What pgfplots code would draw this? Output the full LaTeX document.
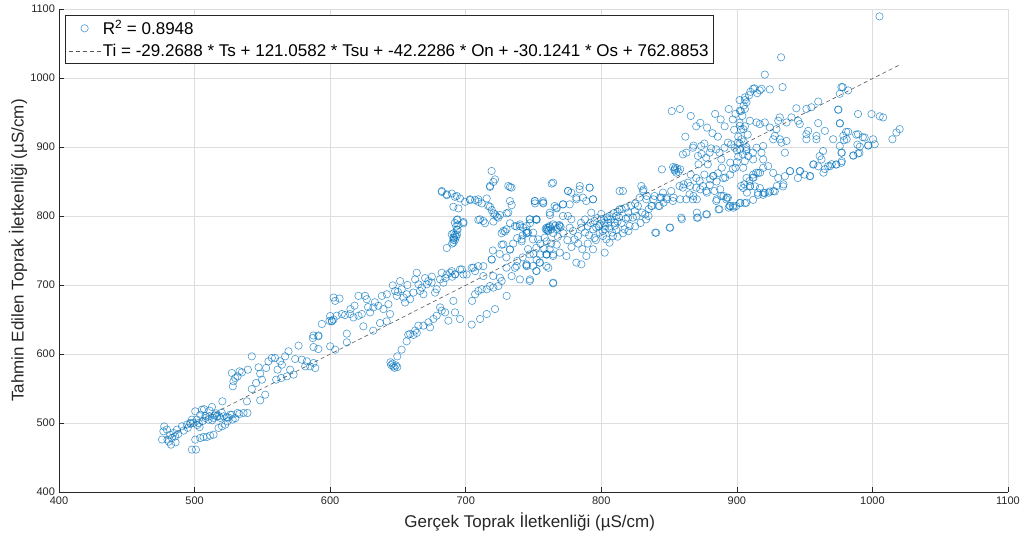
\documentclass[border=0pt]{standalone}
\usepackage{pgfplots}
\pgfplotsset{compat=1.18}
\usepackage{fontspec}
\setmainfont{Liberation Sans}
\definecolor{mblue}{RGB}{0,114,189}
\definecolor{axgray}{RGB}{38,38,38}
\pgfplotsset{
  legcirc/.style={legend image code/.code={\draw[mark repeat=2,mark phase=2,##1] plot coordinates {(0pt,0pt)(16pt,0pt)(32pt,0pt)};}},
  legline/.style={legend image code/.code={\draw[##1] (0pt,0pt) -- (32pt,0pt);}},
}
\begin{document}
\begin{tikzpicture}
\begin{axis}[
  scale only axis, width=949pt, height=483pt,
  xmin=400, xmax=1100, ymin=400, ymax=1100,
  xtick={400,500,...,1100}, ytick={400,500,...,1100},
  axis x line*=bottom, axis y line*=left,
  axis line style={axgray, line width=0.6pt, -},
  tick align=inside, major tick length=5pt,
  tick style={axgray, line width=0.5pt},
  grid=major, major grid style={black!13, line width=0.5pt},
  ticklabel style={font=\fontsize{11}{13}\selectfont, text=axgray},
  xticklabel style={yshift=-1.5pt},
  yticklabel style={xshift=-0.5pt},
  /pgf/number format/assume math mode=true,
  /pgf/number format/1000 sep={},
  xlabel={Gerçek Toprak İletkenliği (µS/cm)},
  ylabel={Tahmin Edilen Toprak İletkenliği (µS/cm)},
  label style={font=\fontsize{17}{20}\selectfont, text=axgray},
  xlabel style={at={(axis description cs:0.496,-0.062)}, anchor=center},
  ylabel style={at={(axis description cs:-0.0432,0.5)}, anchor=center},
  legend style={at={(axis description cs:0.0063,0.9876)}, anchor=north west,
    draw=axgray, line width=0.6pt, font=\fontsize{17}{20}\selectfont, text=black,
    row sep=4pt, inner xsep=3pt, inner ysep=3pt},
  legend cell align=left,
]
\addplot[only marks, mark=o, mark size=3.7pt, mark options={draw=mblue, draw opacity=0.7, line width=0.6pt}, legcirc]
table {
x y
476 476
477.6 495
477 488
479.6 490.4
482 483
483.3 478.3
485.7 480.7
484.5 485.5
482.6 468.6
487 490.4
490.7 495.2
494.3 497.6
496.8 500
498 504.8
500.5 516.9
501.7 504.8
504.2 512
505.4 519.3
503 500
503.7 494
498 461.4
501 461.4
500.5 475.9
504.2 478.3
506.6 479.7
509 479.7
511.5 481.7
514 483
507.9 507.3
512.8 523.2
510.3 504.8
514 507.3
516.5 509.7
518.9 507.3
521.4 509.7
523.8 508.2
517.7 492.8
520.2 495.2
522.6 497.6
524.3 502.4
526.3 512
520.5 531.4
527.5 512
531.7 514.5
536.1 514.5
539 514.5
538.6 531.4
480 476
481 473
486 472
488 484
492 489
495 493
497 499
499 500
502 497
506 503
508 510
511 510
513 504
515 511
518 510
507 520
511 518
516 514
520 515
525 508
528 505
530 507
533 513
528.2 553.2
527.5 572.5
528.7 560.4
530 565.2
531.7 567.6
533.2 574.9
534.9 573.4
539.3 577.3
542.2 596.6
542.2 549.3
545.4 558
548.4 571.5
547.2 580.7
549.7 562.8
552.1 541
548.4 532.9
552.8 579.7
554.5 589.4
557 594.2
559.4 594.2
561.2 577.3
563.1 589.4
563.9 565.2
560.2 562.8
564.4 584.5
566.8 596.6
569.3 603.9
568.1 567.6
570.5 577.3
573 570.1
574.2 592.8
576.7 612.1
579.1 591.8
581.6 582.1
582.8 589.4
585.3 582.1
587.7 586.9
589 579.7
587.2 623.2
591.3 625.6
587.7 610.1
591.3 607.2
600 611.1
603.7 606.3
601.3 647.3
612.3 629.5
612.3 616.9
624.5 640.1
631.8 633.8
636.8 644.9
641.7 647.3
646.6 582.1
645 584
647.5 580
648.5 583.5
646 586
649.5 581
644.5 588
649.5 596.6
652.7 606.3
656.4 618.4
657.6 628
587.7 626.8
591.4 626.8
593.9 643.5
600 655
601.2 648
602.5 650
599.5 648
602.5 681.8
606.9 680.4
603.7 677
604.9 655.5
608.6 657.9
611 656.4
614.7 657.9
617.2 653
620.9 655.5
623.3 657.9
620.9 684.2
625.8 684.2
627 679.4
629.5 660.3
631.9 667.5
635.6 669.9
638.1 684.2
639.3 665.1
641.8 686.6
643 672.2
644.2 657.9
646.2 699.5
647.9 691.4
649.1 684.2
651.6 705.7
652.8 693.8
654.1 681.8
655.3 674.6
656.5 686.6
659 679.4
661.4 689
662.7 708.1
663.9 717.7
665.1 701
666.3 691.4
667.6 696.2
668.8 686.6
671.3 701
672.5 705.7
674.9 703.3
677.4 689
678.6 693.8
681.1 708.1
682.3 717.7
683.5 703.3
686 715.3
688.5 717.7
689.7 720.1
692.1 715.3
695.8 722.5
698.3 715.3
700.7 715.3
704.4 724.9
706.9 720.1
709.3 727.3
713 727.3
719.2 736.8
659 629.2
661.4 627.7
662.7 634
663.9 630.6
665.1 641.1
668.8 641.1
672.5 645.9
673.7 638.7
676.2 650.7
678.6 655.5
681.1 667.5
682.3 662.7
684.8 660.3
687.2 648.3
690.9 677
692.1 660.3
695.8 650.7
704.4 642.6
710.6 650.7
715.5 657.9
721.6 665.1
704.7 677
706.9 686.6
709.3 691.4
711.8 693.8
715.5 693.8
717.9 698.6
720.4 696.2
724.1 698.6
726.5 705.7
730.2 684.2
733.9 712.9
736.4 724.9
740 708.1
745 727.3
747.4 708.1
752.3 736.8
754.8 744
759.7 744
760.9 724.9
764.6 703.3
759.7 763.2
767.1 758.4
682.3 834.9
686 830.1
689.7 832.5
692.1 827.8
695.8 825.4
699.5 820.6
703.2 823
706.9 823
709.3 820.6
711.8 818.2
715.5 825.4
717.9 813.4
719.2 808.6
720.4 803.8
722.9 799
725.3 801.4
717.9 842.1
720.4 849.3
732.7 842.1
733.9 815.8
730.2 803.8
709.3 794.3
714.2 789.5
720.4 791.9
726.5 775.1
729 777.5
732.7 789.5
737.6 784.7
745 775.1
747.4 789.5
752.3 794.3
751.1 818.2
757.2 818.2
763.4 846.9
762.2 801.4
767.1 811
759.7 779.9
764.6 775.1
741.3 763.2
726.5 758.4
732.7 751.2
686 753.6
690.9 765.5
692.1 772.7
693.4 779.9
693.4 794.3
694.6 787.1
698.3 789.5
690.9 813.4
694.6 811
690 760
692 765
693 770
691 775
694 780
693 785
692 790
694 795
691.5 768
693.5 773
766 786
768 783
769 787
767 781
770 784
759 781
761 779
762 784
739.8 785.5
742.3 783.1
744.7 778.3
747.2 795.2
750.9 821.7
757 821.7
752.1 795.2
745.9 775.8
749.6 766.2
752.1 754.1
747.2 744.4
744.7 728.5
749.6 727.5
752.1 720.3
759.5 744.4
761.9 751.7
764.4 744.4
759.5 727.5
754.5 732.4
760.7 783.1
761.9 785.5
763.1 780.7
764.4 787.9
765.6 814.5
766.8 812.1
769.3 785.5
771.7 800
771.7 816.9
775.4 836.2
776.7 816.9
775.4 800
777.9 795.2
776.7 783.1
779.1 778.3
780.3 766.2
782.8 771
785.3 783.1
781.6 824.2
784 838.6
786.5 826.6
791.4 841.1
788.9 821.7
793.9 824.2
792.6 804.8
793.9 780.7
796.3 783.1
798.8 775.8
801.2 771
802.5 780.7
800 795.2
804.9 795.2
803.7 766.2
806.1 761.3
808.6 771
809.8 790.3
811.1 800
813.5 809.7
813.5 836.2
816 836.2
817.2 780.7
819.7 797.6
820.9 785.5
823.3 797.6
827 814.5
828.3 826.6
824.6 807.2
829.5 843.5
830.7 836.2
833.2 824.2
836.9 814.5
839.3 829
840.5 775.8
843 814.5
844.2 826.6
845.5 833.8
847.9 826.6
850.4 783.1
851.6 836.2
852.8 821.7
854.1 867.6
855.3 862.8
859 797.6
857.7 843.5
860.2 841.1
862.7 824.2
863.9 848.3
865.1 831.4
867.6 824.2
870 841.1
871.3 797.6
872.5 850.7
874.9 843.5
877.4 802.4
877.4 836.2
878.6 874.9
882.3 858
883.5 836.2
884.8 821.7
887.2 809.7
888.5 829
892.1 824.2
893.4 826.6
894.6 814.5
897.1 814.5
899.5 814.5
903.2 843.5
905.6 845.9
906.9 819.3
909.3 850.7
911.8 855.6
914.3 862.8
915.5 833.8
860.2 889.4
862.7 891.8
867.6 899
871.3 887
873.7 901.4
877.4 884.5
879.9 891.8
884.8 896.6
887.2 891.8
888.5 882.1
890.9 899
893.4 906.3
895.8 903.9
898.3 899
900.7 906.3
904.4 889.4
906.9 894.2
911.8 891.8
764.4 702.4
747.2 705.8
801 778
803 785
805 790
806 782
808 776
810 786
812 792
799 788
804 798
807 795
811 780
813 798
854 866
856 869
853 871
857 864
920.6 1004.9
912 984.4
916.9 982
918.2 984.4
924.3 983.4
933.7 986.8
977.1 986.8
975.9 977.1
982.1 982
960 965.9
951.3 955.1
955 957.6
943.9 956.1
974.7 954.1
989.4 947.8
999.3 947.8
1005.4 944.4
1007.9 942.9
1020.1 925.9
1017.7 921
1014.7 911.2
975.9 934.6
960 934.6
964.9 923.4
982.1 922
989.4 918.5
994.3 913.7
1000.5 911.2
1001.7 903.9
996.8 902.4
990.7 900.5
989.4 890.7
985.8 887.8
981 911.2
978.5 916.1
975.9 901.5
971 911.2
963.6 894.1
962.4 882
961.1 886.8
967.3 872.2
973.4 874.6
977.1 877.1
977.1 891.7
956.3 874.6
953.8 857.6
939.1 864.9
946.4 864.9
935.4 891.7
932.9 906.3
926.8 911.2
931.7 911.2
928 916.1
936.6 908.8
945.2 938
946.4 933.2
951.3 918.5
952.6 923.4
951.3 911.2
958.7 916.1
958.7 911.2
940.3 942.9
931.7 942.9
936.6 935.6
919.4 901.5
918.2 891.7
914.5 899
919.4 882
912 882
908.4 886.8
905.9 879.5
902.2 896.6
904.7 869.8
907.1 855.1
912 860
915.7 862.4
919.4 869.8
923.1 872.2
926.8 862.4
930.5 855.1
935.4 857.6
904.7 840.5
909.6 842.9
913.3 842.9
917 840.5
920.6 833.2
924.3 835.6
934.1 842.9
902.2 818.5
905.9 818.5
912 823.4
915.7 830.7
919.4 830.7
928 835.6
902.2 952.7
905.9 955.1
907.1 964.9
909.6 938
914.5 935.6
916.9 933.2
920.6 935.6
924.3 928.3
929.2 925.9
930.5 938
902.2 930.7
904.7 925.9
903.5 911.2
907.1 896.6
1005.2 1089.3
932.6 1030
988 918
992.9 914.1
997 902
988.9 903.4
990.4 891.3
986 887.4
978.1 986.8
974.9 954.1
976.1 934.1
980.6 922
979.1 909.8
977.4 891.7
977.4 879.5
973.2 874.6
968.8 872.2
682.4 836.2
686 831.4
693.4 829
703.2 824.2
709.3 824.2
716.7 814.5
721.6 802.4
724 797.6
719.1 865.2
717.9 843.5
721.6 853.1
731.4 843.5
733.8 841.1
732.6 821.7
731.4 804.8
710.5 795.2
713 792.8
698.3 791.3
689.7 773.4
690.9 768.6
690.9 761.4
727.7 778.3
730.1 780.7
727.7 758.9
732.6 751.7
736.3 785.5
740 787.9
744.9 785.5
747.3 795.2
752.2 795.2
751 821.7
757.1 819.3
762 804.8
764.5 848.3
771.8 816.9
775.5 836.2
777.9 833.8
781.6 826.6
784.1 843.5
791.4 841.1
793.9 824.2
759.6 783.1
760.8 778.3
758.3 768.6
753.4 766.2
749.8 775.8
744.9 775.8
741.2 766.2
719.1 737.2
730.1 725.1
737.5 727.5
744.9 730
752.2 720.3
754.7 732.4
759.6 744.4
764.5 742
769.4 746.9
774.3 742
781.6 732.4
785.3 730
789 742
793.9 751.7
802.5 746.9
725.2 710.6
720.3 713
713 713
705.6 725.1
697.1 722.7
692.2 715.5
831.1 838.6
833.6 829
838.5 824.2
843.4 826.6
848.4 824.2
853.3 826.6
858.2 824.2
860.7 845.9
865.6 843.5
868 829
870.5 824.2
873 838.6
877.9 833.8
880.3 853.1
882.8 858
887.7 838.6
885.2 824.2
890.2 829
892.6 826.6
895.1 814.5
897.5 812.1
902.5 819.3
907.4 833.8
909.8 843.5
912.3 855.6
917.2 862.8
919.7 833.8
923.4 833.8
927 836.2
929.5 843.5
934.4 845.9
939.3 865.2
946.7 865.2
954.1 858
956.6 874.9
963.9 862.8
888.9 870
891.4 855.6
895.1 877.3
886.5 809.7
893.9 812.1
832.4 802.4
834.8 800
839.8 775.8
850.8 783.1
859.4 795.2
870.5 804.8
870.5 797.6
877.9 802.4
842.2 814.5
845.9 819.3
837.3 814.5
844.7 867.6
871.7 874.9
854.5 870
858.2 867.6
899 870
900 878
901 886
900 895
902 905
901 915
903 925
902 935
904 945
903 952
905 960
906 968
898 925
897 940
899 948
906 930
908 918
905 908
907 900
909 975
910 980
902 968
906 972
913 985
915 978
873 935
878 928
882 920
886 915
876 905
881 898
888 940
891 930
884 948
894 955
852 952
858 955
866 945
870 930
862 915
868 902
874 890
960 872
965 868
970 875
950 860
945 855
785 790
788 795
790 785
792 790
795 793
797 797
798 785
800 803
802 790
806 800
809 804
812 806
815 810
818 812
820 805
822 815
825 818
788 776
791 772
795 768
783 760
786 752
790 760
796 765
815 790
818 796
826 800
830 805
835 810
812 770
816 775
820 778
825 785
829 790
833 795
735 760
738 768
742 772
746 752
750 745
755 760
758 752
763 760
768 770
772 775
775 765
778 755
742 740
738 735
730 740
725 745
720 750
615 665
618 670
628 668
633 675
650 690
657 700
670 710
675 712
685 710
690 712
880 845
885 850
890 855
895 860
897 868
886 862
876 860
870 855
866 860
};
\addlegendentry{R\textsuperscript{2} = 0.8948}
\addplot[draw=black!65, dash pattern=on 4pt off 3pt, line width=0.6pt, legline]
  coordinates {(478,478) (1020,1019)};
\addlegendentry{Ti = -29.2688 * Ts + 121.0582 * Tsu + -42.2286 * On + -30.1241 * Os + 762.8853}
\end{axis}
\pgfresetboundingbox
\path ([shift={(-59pt,-43pt)}]current axis.south west) rectangle ([shift={(14pt,9pt)}]current axis.north east);
\end{tikzpicture}
\end{document}
